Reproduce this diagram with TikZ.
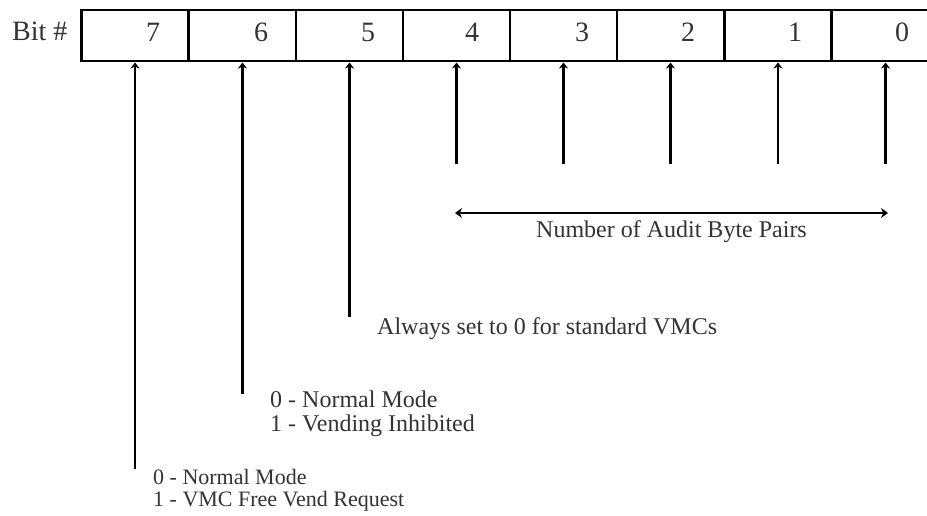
\documentclass[tikz,border=0pt]{standalone}
\usepackage{fontspec}
\setmainfont{Liberation Serif}
\usetikzlibrary{arrows.meta}
\begin{document}
\begin{tikzpicture}[x=1pt,y=-1pt,
  cell/.style={draw=black,line width=2.8pt,minimum width=107pt,minimum height=51pt,inner sep=0pt,outer sep=0pt},
  digit/.style={anchor=base,font=\fontsize{28}{30}\selectfont,text=black!80,inner sep=0pt},
  lbl/.style={anchor=base west,font=\fontsize{24}{26}\selectfont,text=black!80,inner sep=0pt},
  small/.style={anchor=base west,font=\fontsize{22}{24}\selectfont,text=black!80,inner sep=0pt},
  arr/.style={line width=2.8pt,-{Stealth[length=6pt,width=9pt]}},
  dbl/.style={line width=2.8pt,{Stealth[length=7pt,width=10pt]}-{Stealth[length=7pt,width=10pt]}}]
\useasboundingbox[fill=white] (0,0) rectangle (927,515);
% register cells
\node[cell] (c7) at (135,35.5) {};
\node[cell] (c6) at (242.5,35.5) {};
\node[cell] (c5) at (349.5,35.5) {};
\node[cell] (c4) at (456.5,35.5) {};
\node[cell] (c3) at (563.5,35.5) {};
\node[cell] (c2) at (670.5,35.5) {};
\node[cell] (c1) at (778,35.5) {};
\node[cell] (c0) at (885.5,35.5) {};
% labels
\node[anchor=base west,font=\fontsize{28}{30}\selectfont,text=black!80,inner sep=0pt] (bit) at (12,40) {Bit \#};
\node[digit] (d7) at (153,41) {7};
\node[digit] (d6) at (261,41) {6};
\node[digit] (d5) at (368,41) {5};
\node[digit] (d4) at (472,41) {4};
\node[digit] (d3) at (582,41) {3};
\node[digit] (d2) at (688,41) {2};
\node[digit] (d1) at (795,41) {1};
\node[digit] (d0) at (902,41) {0};
% line end points
\coordinate (e7) at (135,469);
\coordinate (e6) at (242.5,394);
\coordinate (e5) at (349.5,317);
\coordinate (e4) at (456.5,164);
\coordinate (e3) at (563.5,164);
\coordinate (e2) at (670.5,164);
\coordinate (e1) at (778,164);
\coordinate (e0) at (885.5,164);
\foreach \i in {0,...,7} {\draw[arr] (e\i) -- ([yshift=-1.5pt]c\i.south);}
% double arrow
\coordinate (hl) at (455,213);
\coordinate (hr) at (888,213);
\draw[dbl] (hl) -- (hr);
\node[anchor=base,font=\fontsize{24}{26}\selectfont,text=black!80,inner sep=0pt] (num) at (671.5,237) {Number of Audit Byte Pairs};
\node[lbl] (al) at (377,334) {Always set to 0 for standard VMCs};
\node[lbl] (b6a) at (270,407) {0 - Normal Mode};
\node[lbl] (b6b) at (270,431) {1 - Vending Inhibited};
\node[small] (b7a) at (153,484) {0 - Normal Mode};
\node[small] (b7b) at (153,506.5) {1 - VMC Free Vend Request};
\end{tikzpicture}
\end{document}
